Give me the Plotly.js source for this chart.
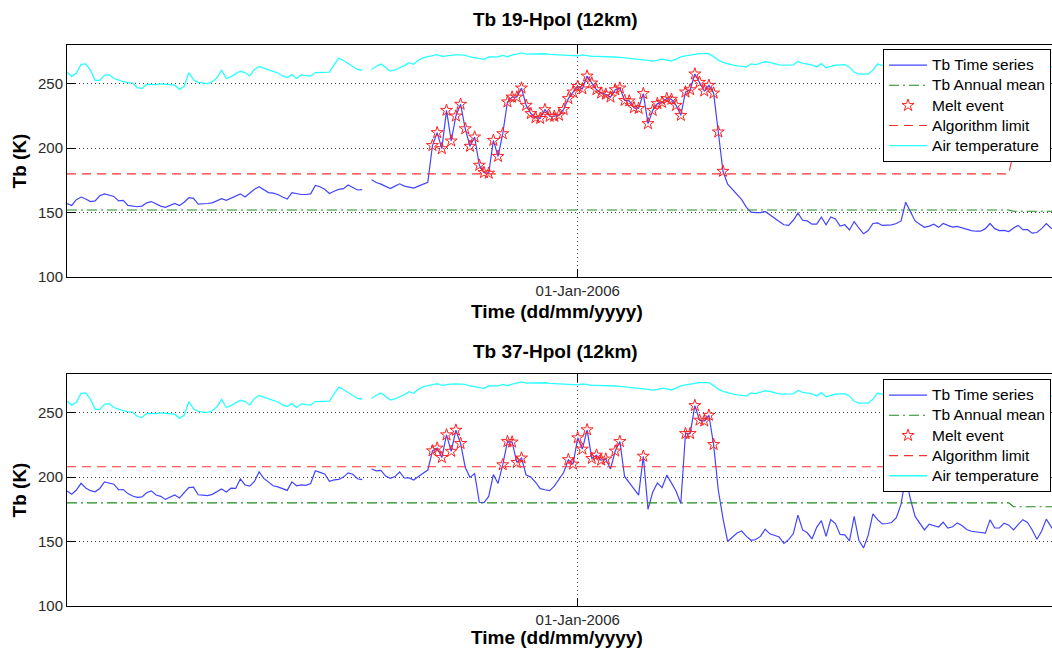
<!DOCTYPE html>
<html><head><meta charset="utf-8">
<script src="https://cdn.plot.ly/plotly-3.0.1.min.js"></script>
<style>html,body{margin:0;padding:0;overflow:hidden;background:#fff}#chart{width:1110px;height:650px}</style>
</head><body><div id="chart"></div>
<script>
// ---- data ----
const startDate = '2005-09-14';          // first daily sample
const tickDates = ['2006-01-01'];
const tickLabels = ['01-Jan-2006'];
const yTickVals = [100, 150, 200, 250];

// Tb 19 GHz H-pol (K), one value per day
const tb19 = [
157, 155.5, 160, 162, 160.5, 158.5, 159, 163, 164.5, 163.5,
162.5, 159, 159.5, 155.6, 155, 154.5, 155, 157.5, 158.5, 156.5,
155, 154, 155.5, 157, 155.5, 158, 161.5, 161, 156.5, 156.5,
157, 157.5, 159, 160.8, 159.5, 161, 163, 164.5, 162, 165,
168, 170, 167.5, 165.5, 165, 164, 162, 160.5, 165.5, 164.5,
164, 164, 164.5, 171, 170, 168, 164.8, 166.5, 168, 168.5,
171.4, 169.5, 167.5, 167.8, null, 175.5, 173.3, 172, 170, 168.6,
170.5, 172.3, 170.5, 169.5, 169, 170.5, 172, 173.5, 202, 212,
199.6, 229.3, 205.5, 224.9, 234, 215, 201.4, 208.6, 186.7, 181,
180.5, 206, 193.6, 211.2, 235.8, 239.6, 239.6, 246.6, 233.2, 226.8,
223.6, 223, 229.8, 224.7, 224.7, 225.5, 230, 238.4, 243.5, 247.9,
246, 255.9, 250.5, 245.3, 242.7, 241.8, 239.6, 245.3, 246.6, 237,
236.6, 231.4, 230.8, 242.3, 219, 229.3, 234.5, 235.5, 238.4, 237.9,
233.2, 225.4, 243.5, 245.3, 257.5, 251, 244.3, 248.7, 242.7, 212.5,
182, 172, 168, 164.5, 160, 154, 150.3, 150, 150, 150.8,
148, 145.5, 143, 140.5, 140, 144, 149.5, 144, 143.5, 141,
141, 146.5, 140.5, 146.5, 145, 139.5, 140.5, 136.5, 143, 138,
133.5, 136, 141.5, 142, 140, 140.3, 140.5, 141.5, 143.5, 158,
151, 143.5, 141, 138.5, 139.5, 141, 138.5, 141.5, 140, 138.7,
139.3, 138, 136.7, 136, 135.5, 135.5, 137.5, 141.5, 137.5, 136,
136.2, 135.3, 138, 140, 136.7, 136.7, 134, 134.5, 137.5, 141.5,
138, 136
];

// Tb 37 GHz H-pol (K), one value per day
const tb37 = [
189.3, 186.8, 190, 195.2, 191.6, 189.5, 188.6, 191.2, 196.3, 195.6,
194.5, 190.2, 190.3, 187.2, 185.3, 184.3, 184.6, 187.9, 189.3, 186.1,
185.1, 182.7, 184.4, 186.1, 183.8, 187.6, 191.8, 192.2, 186.3, 186,
185.7, 186.6, 188.6, 190.8, 188.4, 191.4, 191.2, 198.6, 193.9, 193,
196.6, 204, 199, 195.8, 193.3, 192.4, 190.9, 189.7, 196.3, 193.3,
194, 193.6, 195, 204.9, 203.7, 202.5, 196.7, 197.8, 198.2, 200,
203.3, 202.2, 198.7, 198, null, 206.3, 204.8, 205.2, 200.8, 199.1,
200.4, 204, 199.3, 199.4, 197.7, 200.4, 202.8, 205.5, 220.4, 222.5,
215.2, 232.8, 220, 236.4, 226.1, 207.5, 199.8, 202.7, 180.5, 180.2,
185, 202, 195.1, 209.6, 227.6, 227.2, 211.4, 214.8, 201.5, 200,
196, 191, 190.2, 189.5, 193, 198, 203.6, 213.5, 210.1, 230.5,
221.7, 236.7, 214.5, 217, 213.2, 214, 206.3, 220.2, 227.6, 200.5,
195.5, 190.8, 186, 216.2, 175, 188.2, 195.5, 191.8, 201.5, 195.5,
189, 179.5, 233.8, 233.8, 255.5, 244.2, 243.5, 248, 225.3, 190,
168, 150, 153, 156.6, 158.2, 154, 151, 151.6, 154, 159.6,
156, 155, 153.5, 148.5, 151.5, 156, 170.5, 159, 156.8, 152,
161, 166.3, 154, 167, 164, 155.5, 155.2, 150.5, 169.5, 151,
145, 155, 171.5, 167, 163.7, 164, 164.8, 168.5, 179, 200,
183, 169.5, 164, 159, 163.5, 162.5, 161.3, 165, 160.5, 161.5,
164.5, 162.5, 159.3, 158, 157.4, 157, 156.5, 166.8, 160.5, 160.5,
164.3, 162.7, 159, 163.2, 167, 164.8, 159, 151.8, 158, 167.4,
162, 156
];

// Air temperature (K), one value per day
const airTemp = [
259, 255.7, 258, 265, 265.3, 260.5, 252.6, 252.6, 256.5, 257,
254, 252.5, 251.5, 250.8, 250.5, 247, 246.2, 249.5, 249.3, 249.2,
249.9, 249.5, 249.2, 248.8, 245.6, 248, 258.5, 253, 251, 250.3,
250, 251.5, 254.5, 260.4, 254, 255.5, 257.5, 259.6, 258.6, 256,
261, 263.3, 262, 260.5, 259.5, 258.3, 256, 254.8, 257, 254,
256.8, 256.3, 255.8, 258.6, 258.8, 259, 259, 264.5, 269.8, 268,
265.5, 263.2, 261, 260.4, null, 261, 263.5, 265.2, 262.8, 259.8,
260.6, 262.2, 264, 266.3, 265, 268.3, 270, 271, 271.7, 272.5,
271.2, 271.8, 272.2, 272.4, 272.4, 272, 270.7, 270, 269.4, 268.8,
270.7, 271, 270.8, 271.9, 270.9, 272.2, 273, 273.8, 272.9, 273.1,
273.3, 273.3, 273.2, 272.8, 272.5, 272.3, 272.1, 271.9, 271.7, 271.5,
272.4, 271.8, 271.2, 271.2, 271.2, 271.2, 271, 270.7, 270.4, 270.1,
269.7, 269.4, 268.9, 268.4, 268, 267.5, 268, 269.1, 268.5, 267.6,
269, 270.7, 271.5, 272.2, 272.9, 273.3, 273.3, 273.3, 271, 268.3,
266.5, 265.2, 264.5, 263.8, 263.4, 263, 265.3, 264.8, 266, 267,
266.5, 265.3, 264.6, 264.4, 264.3, 264.6, 267.3, 265.8, 265.2, 264.5,
263, 265.5, 262.4, 263.6, 264.3, 264.6, 264.8, 262.8, 258.8, 257.4,
257.2, 257.5, 260.5, 265.2, 264.2, 265, 263.8, 264.5, 266, 265.2,
264, 263.5, 265, 266.2, 265.5, 264.2, 263, 262.5, 264, 265.8,
266.5, 265, 263.8, 262.4, 261.5, 263, 264.6, 265.2, 264, 262.8,
261, 260.2, 261.8, 263.5, 264.2, 262.5, 261, 259.8, 260.5, 262.3,
263, 262
];

// Annual mean and algorithm limit (K), step change in early April
const stepDates = ['2005-09-14', '2006-04-03', '2006-04-04', '2006-04-13'];
const mean19  = [152, 152, 151, 151];
const limit19 = [180, 180, 197, 197];
const mean37  = [180, 180, 177, 177];
const limit37 = [208, 208, 214, 214];

const seriesNames = ['Tb Time series', 'Tb Annual mean', 'Melt event', 'Algorithm limit', 'Air temperature'];

// ---- build ----
const DAY = 86400000;
function meltEvents(tb, limits) {
  const t0 = Date.parse(startDate);
  const tStep = Date.parse(stepDates[2]);
  return tb.map(function (v, i) {
    if (v === null) return null;
    const lim = (t0 + i * DAY) >= tStep ? limits[2] : limits[0];
    return v > lim ? v : null;
  });
}

const FONT = 'Liberation Sans, Arial, sans-serif';
function lgName(s) { return '<span style="font-size:15.5px">' + s + '</span>'; }

function panel(tb, mean, limit, xa, ya, lg) {
  return [
    {type:'scatter', mode:'lines', name:lgName(seriesNames[0]), x0:startDate, dx:DAY, y:tb,
     line:{color:'#4444ff', width:1.2}, connectgaps:false, xaxis:xa, yaxis:ya, legend:lg},
    {type:'scatter', mode:'lines', name:lgName(seriesNames[1]), x:stepDates, y:mean,
     line:{color:'#1e8c1e', width:1.1, dash:'10px,4px,2px,4px'}, xaxis:xa, yaxis:ya, legend:lg},
    {type:'scatter', mode:'markers', name:lgName(seriesNames[2]), x0:startDate, dx:DAY, y:meltEvents(tb, limit),
     marker:{symbol:'star-open', size:9, color:'#ff2020', line:{width:1}}, xaxis:xa, yaxis:ya, legend:lg},
    {type:'scatter', mode:'lines', name:lgName(seriesNames[3]), x:stepDates, y:limit,
     line:{color:'#ff3030', width:1.1, dash:'9px,6px'}, xaxis:xa, yaxis:ya, legend:lg},
    {type:'scatter', mode:'lines', name:lgName(seriesNames[4]), x0:startDate, dx:DAY, y:airTemp,
     line:{color:'#2affff', width:1.3}, connectgaps:false, xaxis:xa, yaxis:ya, legend:lg}
  ];
}

const data = panel(tb19, mean19, limit19, 'x', 'y', 'legend')
  .concat(panel(tb37, mean37, limit37, 'x2', 'y2', 'legend2'));

const tickFont = {family:FONT, size:15, color:'#2a2a2a'};
const boldFont = {family:FONT, size:19, color:'#000', weight:'bold'};
const xRange = [startDate, '2006-04-24 14:24'];

function xAxis(anchor) {
  return {anchor:anchor, domain:[0,1], type:'date', range:xRange,
    tickmode:'array', tickvals:tickDates, ticktext:tickLabels,
    ticks:'inside', ticklen:8, tickcolor:'#000', tickwidth:1,
    showline:true, linecolor:'#000', linewidth:1, mirror:'ticks',
    showgrid:true, gridcolor:'#404040', gridwidth:1, griddash:'1px,3px',
    zeroline:false, tickfont:tickFont, fixedrange:true};
}
function yAxis(anchor, domain) {
  return {anchor:anchor, domain:domain, range:[100,280],
    tickmode:'array', tickvals:yTickVals,
    ticks:'inside', ticklen:9, tickcolor:'#000', tickwidth:1,
    showline:true, linecolor:'#000', linewidth:1, mirror:'ticks',
    showgrid:true, gridcolor:'#404040', gridwidth:1, griddash:'1px,3px',
    zeroline:false, tickfont:tickFont, fixedrange:true,
    title:{text:'Tb (K)', font:boldFont, standoff:6}};
}
function legendBox(y) {
  return {x:0.7824, y:y, xanchor:'left', yanchor:'top', bgcolor:'#fff',
    bordercolor:'#000', borderwidth:1, itemwidth:38, tracegroupgap:0,
    font:{family:FONT, size:13.2, color:'#000'}};
}

const layout = {
  width:1110, height:650,
  margin:{l:67, r:0, t:45, b:44, autoexpand:false},
  paper_bgcolor:'#fff', plot_bgcolor:'#fff',
  showlegend:true,
  xaxis:xAxis('y'), yaxis:yAxis('x', [0.5865, 1]),
  xaxis2:xAxis('y2'), yaxis2:yAxis('x2', [0, 0.41355]),
  legend:legendBox(0.9929), legend2:legendBox(0.4046),
  annotations:[
    {text:'Tb 19-Hpol (12km)', xref:'paper', yref:'paper', x:0.4688, y:1.0446, xanchor:'center', yanchor:'middle', showarrow:false, font:boldFont},
    {text:'Tb 37-Hpol (12km)', xref:'paper', yref:'paper', x:0.4688, y:0.4528, xanchor:'center', yanchor:'middle', showarrow:false, font:boldFont},
    {text:'Time (dd/mm/yyyy)', xref:'paper', yref:'paper', x:0.4698, y:0.5258, xanchor:'center', yanchor:'middle', showarrow:false, font:boldFont},
    {text:'Time (dd/mm/yyyy)', xref:'paper', yref:'paper', x:0.4698, y:-0.0553, xanchor:'center', yanchor:'middle', showarrow:false, font:boldFont}
  ]
};

Plotly.newPlot('chart', data, layout, {displayModeBar:false, staticPlot:true});
</script>
</body></html>
